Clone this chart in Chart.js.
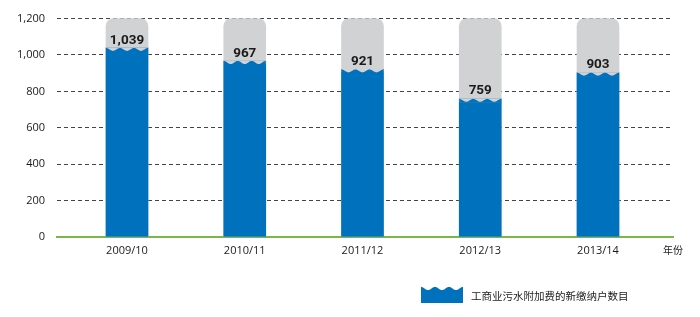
<!DOCTYPE html>
<html>
<head>
<meta charset="utf-8">
<script src="https://cdn.jsdelivr.net/npm/chart.js@4.4.0/dist/chart.umd.min.js"></script>
<style>
  html, body { margin: 0; padding: 0; background: #fff; }
</style>
</head>
<body>
<canvas id="chart" width="700" height="317"></canvas>
<script>
// data
const seasons = ['2009/10', '2010/11', '2011/12', '2012/13', '2013/14'];
const newAccounts = [1039, 967, 921, 759, 903];
const capacity = [1200, 1200, 1200, 1200, 1200];
const yTicks = [0, 200, 400, 600, 800, 1000, 1200];
const axisUnit = '年份';
const legendLabel = '工商业污水附加费的新缴纳户数目';

const BLUE = '#0071bc';
const GREY = '#d1d2d4';
const X_MIN = -0.5945;
const X_MAX = 4.637;

// wavy top used for the bars and the legend icon
function waveTop(ctx, left, right, top, amp, color) {
    var w = right - left;
    ctx.save();
    ctx.fillStyle = color;
    ctx.beginPath();
    ctx.moveTo(left, top + amp + 1);
    for (var k = 0; k <= 60; k++) {
        var t = k / 60;
        var y = top + amp * (1 + Math.cos(2 * Math.PI * (3 * t - 0.5))) / 2;
        ctx.lineTo(left + w * t, y);
    }
    ctx.lineTo(right, top + amp + 1);
    ctx.closePath();
    ctx.fill();
    ctx.restore();
}

const barDecor = {
    id: 'barDecor',
    afterDatasetsDraw: function(chart) {
        var ctx = chart.ctx;
        var meta = chart.getDatasetMeta(0);
        meta.data.forEach(function(bar, i) {
            var p = bar.getProps(['x', 'y', 'width'], true);
            var left = p.x - p.width / 2;
            var right = p.x + p.width / 2;
            // cut the wave into the top of the blue bar
            ctx.fillStyle = GREY;
            ctx.fillRect(left, p.y - 0.5, p.width, 4);
            waveTop(ctx, left, right, p.y, 3, BLUE);
            // value label
            ctx.fillStyle = '#1a1a1a';
            ctx.font = 'bold 13.5px Roboto, sans-serif';
            ctx.textAlign = 'center';
            ctx.textBaseline = 'bottom';
            ctx.fillText(newAccounts[i].toLocaleString('en-US'), p.x, p.y - 1);
        });
    },
    afterDraw: function(chart) {
        // legend
        var ctx = chart.ctx;
        ctx.fillStyle = BLUE;
        ctx.fillRect(421, 290, 42, 13);
        waveTop(ctx, 421, 463, 287, 3, BLUE);
        ctx.fillStyle = '#1a1a1a';
        ctx.font = '10.5px "Noto Sans CJK SC", sans-serif';
        ctx.textAlign = 'left';
        ctx.textBaseline = 'middle';
        ctx.fillText(legendLabel, 471, 296);
    }
};

const ctx = document.getElementById('chart').getContext('2d');

new Chart(ctx, {
    type: 'bar',
    data: {
        datasets: [{
            label: legendLabel,
            data: newAccounts.map(function(v, i) { return { x: i, y: v }; }),
            backgroundColor: BLUE,
            barThickness: 42,
            grouped: false
        }, {
            label: 'capacity',
            data: capacity.map(function(v, i) { return { x: i, y: v }; }),
            backgroundColor: GREY,
            borderRadius: { topLeft: 8, topRight: 8, bottomLeft: 0, bottomRight: 0 },
            borderSkipped: 'bottom',
            barThickness: 42,
            grouped: false,
            clip: false
        }]
    },
    options: {
        responsive: false,
        devicePixelRatio: 1,
        animation: false,
        layout: { padding: { top: 16, right: 27, left: 0, bottom: 0 } },
        plugins: {
            legend: { display: false },
            tooltip: { enabled: false }
        },
        scales: {
            x: {
                type: 'linear',
                offset: false,
                min: X_MIN,
                max: X_MAX,
                afterBuildTicks: function(scale) {
                    scale.ticks = seasons.map(function(s, i) { return { value: i }; })
                        .concat([{ value: X_MAX }]);
                },
                afterFit: function(scale) { scale.height = 80; },
                grid: { display: false, drawTicks: false },
                border: { display: true, color: '#7ab648', width: 2 },
                ticks: {
                    autoSkip: false,
                    maxRotation: 0,
                    padding: 7,
                    color: '#1a1a1a',
                    font: function(c) {
                        return c.index < seasons.length
                            ? { family: '"Open Sans", sans-serif', size: 11 }
                            : { family: '"Noto Sans CJK SC", sans-serif', size: 10 };
                    },
                    callback: function(value) {
                        var i = Math.round(value);
                        return (Math.abs(value - i) < 1e-6 && i < seasons.length) ? seasons[i] : axisUnit;
                    }
                }
            },
            y: {
                min: 0,
                max: 1200,
                afterBuildTicks: function(scale) {
                    scale.ticks = yTicks.map(function(v) { return { value: v }; });
                },
                afterFit: function(scale) { scale.width = 57; },
                grid: { color: '#444', lineWidth: 1, drawTicks: false },
                border: { display: false, dash: [4, 3] },
                ticks: {
                    padding: 12,
                    color: '#1a1a1a',
                    font: { family: '"Open Sans", sans-serif', size: 11 },
                    callback: function(v) { return v.toLocaleString('en-US'); }
                }
            }
        }
    },
    plugins: [barDecor]
});
</script>
</body>
</html>
